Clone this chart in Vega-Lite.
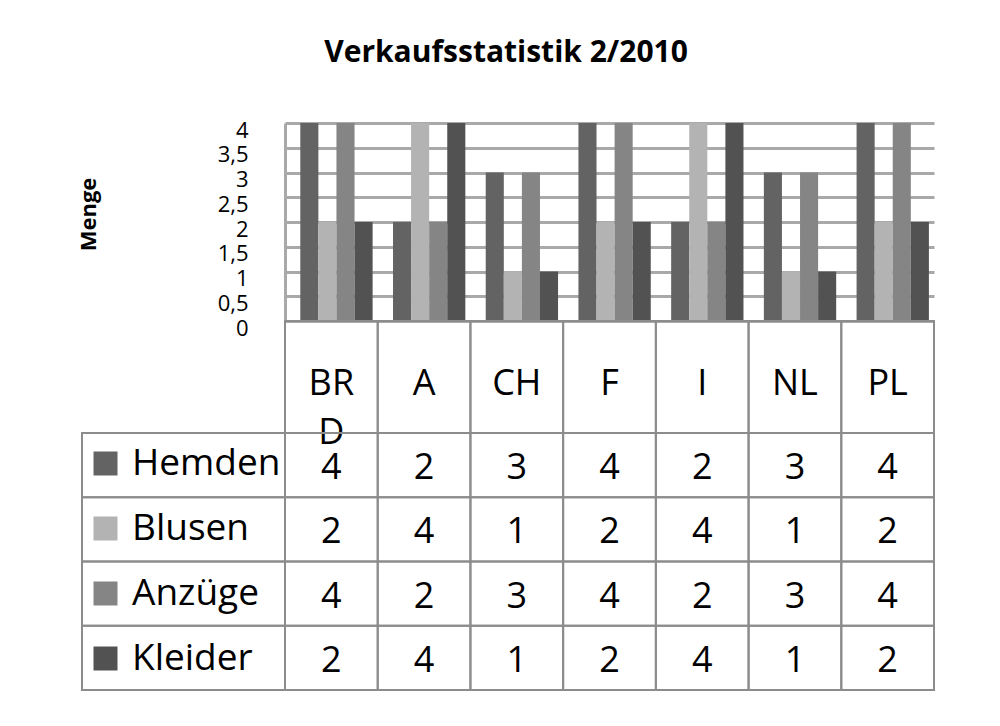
{
  "$schema": "https://vega.github.io/schema/vega-lite/v6.json",
  "padding": {"left": 77, "top": 38, "right": 10, "bottom": 10},
  "background": "white",
  "title": {
    "text": "Verkaufsstatistik 2/2010",
    "font": "Open Sans",
    "fontSize": 30,
    "fontWeight": "bold",
    "color": "black",
    "anchor": "middle",
    "frame": "bounds",
    "offset": 51
  },
  "datasets": {
    "werte": [
      {"Land": "BRD", "Serie": "Hemden", "Wert": 4},
      {"Land": "A", "Serie": "Hemden", "Wert": 2},
      {"Land": "CH", "Serie": "Hemden", "Wert": 3},
      {"Land": "F", "Serie": "Hemden", "Wert": 4},
      {"Land": "I", "Serie": "Hemden", "Wert": 2},
      {"Land": "NL", "Serie": "Hemden", "Wert": 3},
      {"Land": "PL", "Serie": "Hemden", "Wert": 4},
      {"Land": "BRD", "Serie": "Blusen", "Wert": 2},
      {"Land": "A", "Serie": "Blusen", "Wert": 4},
      {"Land": "CH", "Serie": "Blusen", "Wert": 1},
      {"Land": "F", "Serie": "Blusen", "Wert": 2},
      {"Land": "I", "Serie": "Blusen", "Wert": 4},
      {"Land": "NL", "Serie": "Blusen", "Wert": 1},
      {"Land": "PL", "Serie": "Blusen", "Wert": 2},
      {"Land": "BRD", "Serie": "Anzüge", "Wert": 4},
      {"Land": "A", "Serie": "Anzüge", "Wert": 2},
      {"Land": "CH", "Serie": "Anzüge", "Wert": 3},
      {"Land": "F", "Serie": "Anzüge", "Wert": 4},
      {"Land": "I", "Serie": "Anzüge", "Wert": 2},
      {"Land": "NL", "Serie": "Anzüge", "Wert": 3},
      {"Land": "PL", "Serie": "Anzüge", "Wert": 4},
      {"Land": "BRD", "Serie": "Kleider", "Wert": 2},
      {"Land": "A", "Serie": "Kleider", "Wert": 4},
      {"Land": "CH", "Serie": "Kleider", "Wert": 1},
      {"Land": "F", "Serie": "Kleider", "Wert": 2},
      {"Land": "I", "Serie": "Kleider", "Wert": 4},
      {"Land": "NL", "Serie": "Kleider", "Wert": 1},
      {"Land": "PL", "Serie": "Kleider", "Wert": 2}
    ],
    "laender": [
      {"Land": "BRD"}, {"Land": "A"}, {"Land": "CH"}, {"Land": "F"},
      {"Land": "I"}, {"Land": "NL"}, {"Land": "PL"}
    ],
    "serien": [
      {"Serie": "Hemden"}, {"Serie": "Blusen"}, {"Serie": "Anzüge"}, {"Serie": "Kleider"}
    ]
  },
  "columns": 2,
  "spacing": 0,
  "bounds": "flush",
  "align": "each",
  "concat": [
    {
      "width": 203,
      "height": 198,
      "data": {"values": [{}]},
      "mark": {"type": "text"},
      "encoding": {"text": {"value": " "}}
    },
    {
      "width": 649,
      "height": 198,
      "data": {"name": "werte"},
      "mark": {"type": "bar"},
      "encoding": {
        "x": {
          "field": "Land",
          "type": "nominal",
          "sort": ["BRD", "A", "CH", "F", "I", "NL", "PL"],
          "scale": {"paddingInner": 0.22, "paddingOuter": 0.11, "align": 0.75},
          "axis": null
        },
        "xOffset": {
          "field": "Serie",
          "type": "nominal",
          "sort": ["Hemden", "Blusen", "Anzüge", "Kleider"],
          "scale": {"paddingInner": 0, "paddingOuter": 0}
        },
        "y": {
          "field": "Wert",
          "type": "quantitative",
          "scale": {"domain": [0, 4], "nice": false, "zero": true},
          "axis": {
            "title": "Menge",
            "values": [0, 0.5, 1, 1.5, 2, 2.5, 3, 3.5, 4],
            "labelExpr": "replace(format(datum.value, '~g'), '.', ',')",
            "grid": true,
            "gridColor": "#a9a9a9",
            "gridWidth": 3,
            "ticks": false,
            "domain": true,
            "domainColor": "#a9a9a9",
            "domainWidth": 3,
            "labelPadding": 37,
            "labelFont": "Open Sans",
            "labelFontSize": 22,
            "labelColor": "black",
            "labelOffset": 7,
            "labelOverlap": false,
            "labelFlush": false,
            "titleFont": "Open Sans",
            "titleFontSize": 22,
            "titleFontWeight": "bold",
            "titleColor": "black",
            "titleAngle": 270,
            "titleBaseline": "middle",
            "titleX": -197,
            "titleY": 91
          }
        },
        "color": {
          "field": "Serie",
          "type": "nominal",
          "scale": {
            "domain": ["Hemden", "Blusen", "Anzüge", "Kleider"],
            "range": ["#636363", "#b3b3b3", "#858585", "#525252"]
          },
          "legend": {
            "orient": "none",
            "legendX": 5,
            "legendY": 322,
            "title": null,
            "padding": 0,
            "direction": "vertical",
            "symbolType": "square",
            "symbolSize": 576,
            "symbolStrokeWidth": 0,
            "symbolOpacity": 1,
            "labelFont": "Open Sans",
            "labelFontSize": 37,
            "labelColor": "black",
            "labelOffset": 8,
            "labelLimit": 400,
            "rowPadding": 27
          }
        }
      }
    },
    {
      "width": 203,
      "height": 112,
      "data": {"values": [{}]},
      "mark": {"type": "text"},
      "encoding": {"text": {"value": " "}}
    },
    {
      "width": 649,
      "height": 112,
      "data": {"name": "laender"},
      "mark": {"type": "rect", "filled": false, "stroke": "#8c8c8c", "strokeWidth": 2},
      "encoding": {
        "x": {
          "field": "Land",
          "type": "nominal",
          "sort": ["BRD", "A", "CH", "F", "I", "NL", "PL"],
          "scale": {"paddingInner": 0, "paddingOuter": 0},
          "axis": {
            "orient": "top",
            "title": null,
            "domain": false,
            "ticks": false,
            "tickSize": 0,
            "labelPadding": -45,
            "labelAngle": 0,
            "labelBaseline": "top",
            "labelFont": "Open Sans",
            "labelFontSize": 36,
            "labelColor": "black",
            "labelLineHeight": 49,
            "labelOverlap": false,
            "labelExpr": "datum.value == 'BRD' ? ['BR', 'D'] : datum.value",
            "zindex": 1
          }
        }
      }
    },
    {
      "width": 203,
      "height": 257,
      "data": {"name": "serien"},
      "mark": {"type": "rect", "filled": false, "stroke": "#8c8c8c", "strokeWidth": 2},
      "encoding": {
        "y": {
          "field": "Serie",
          "type": "nominal",
          "sort": ["Hemden", "Blusen", "Anzüge", "Kleider"],
          "scale": {"paddingInner": 0, "paddingOuter": 0},
          "axis": null
        }
      }
    },
    {
      "width": 649,
      "height": 257,
      "data": {"name": "werte"},
      "encoding": {
        "x": {
          "field": "Land",
          "type": "nominal",
          "sort": ["BRD", "A", "CH", "F", "I", "NL", "PL"],
          "scale": {"paddingInner": 0, "paddingOuter": 0},
          "axis": null
        },
        "y": {
          "field": "Serie",
          "type": "nominal",
          "sort": ["Hemden", "Blusen", "Anzüge", "Kleider"],
          "scale": {"paddingInner": 0, "paddingOuter": 0},
          "axis": null
        }
      },
      "layer": [
        {"mark": {"type": "rect", "filled": false, "stroke": "#8c8c8c", "strokeWidth": 2}},
        {
          "mark": {"type": "text", "font": "Open Sans", "fontSize": 36, "color": "black", "baseline": "middle", "dy": 3},
          "encoding": {"text": {"field": "Wert", "type": "quantitative"}}
        }
      ]
    }
  ],
  "config": {
    "view": {"stroke": null},
    "font": "Open Sans"
  }
}
